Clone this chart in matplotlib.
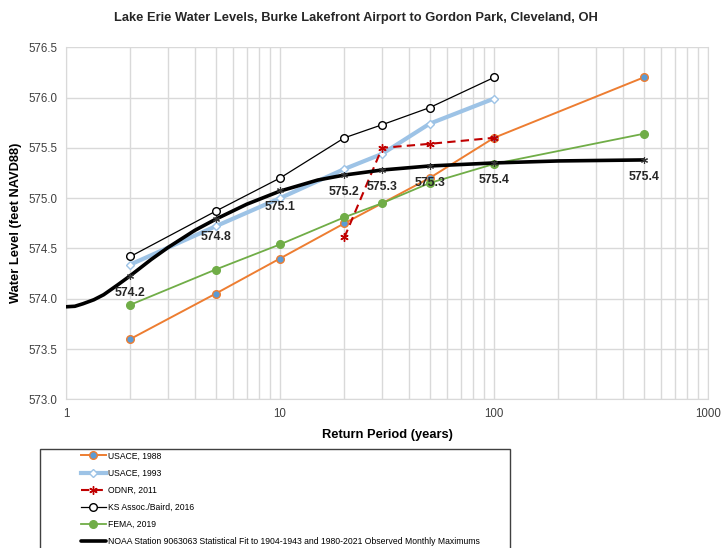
import numpy as np
import matplotlib.pyplot as plt
import matplotlib.patches as patches

plt.rcParams['font.family'] = ['Liberation Sans', 'DejaVu Sans']

# ---- Data ----
usace88_x = [2, 5, 10, 20, 50, 100, 500]
usace88_y = [573.60, 574.05, 574.40, 574.75, 575.20, 575.60, 576.20]

usace93_x = [2, 5, 10, 20, 30, 50, 100]
usace93_y = [574.34, 574.72, 575.00, 575.29, 575.44, 575.74, 575.99]

odnr_x = [20, 30, 50, 100]
odnr_y = [574.61, 575.50, 575.54, 575.60]

ks_x = [2, 5, 10, 20, 30, 50, 100]
ks_y = [574.42, 574.87, 575.20, 575.60, 575.73, 575.90, 576.20]

fema_x = [2, 5, 10, 20, 30, 50, 100, 500]
fema_y = [573.94, 574.29, 574.54, 574.81, 574.95, 575.15, 575.34, 575.64]

# NOAA statistical fit curve
noaa_x = [1, 1.1, 1.2, 1.35, 1.5, 1.75, 2, 2.5, 3, 4, 5, 7, 10, 15, 20, 30, 50, 100, 200, 500]
noaa_y = [573.92, 573.925, 573.95, 573.99, 574.04, 574.14, 574.23, 574.39, 574.51, 574.68,
          574.79, 574.94, 575.07, 575.18, 575.23, 575.28, 575.32, 575.35, 575.37, 575.38]

# NOAA points with data labels
noaa_pts_x = [2, 5, 10, 20, 30, 50, 100, 500]
noaa_pts_y = [574.23, 574.79, 575.08, 575.23, 575.28, 575.32, 575.35, 575.38]
noaa_labels = ['574.2', '574.8', '575.1', '575.2', '575.3', '575.3', '575.4', '575.4']

legend_labels = ['USACE, 1988', 'USACE, 1993', 'ODNR, 2011', 'KS Assoc./Baird, 2016', 'FEMA, 2019',
                 'NOAA Station 9063063 Statistical Fit to 1904-1943 and 1980-2021 Observed Monthly Maximums']

# ---- Colors ----
orange = '#ED7D31'
blue = '#5B9BD5'
light_blue = '#9DC3E6'
red = '#C00000'
green = '#70AD47'
grid_color = '#D9D9D9'
tick_color = '#404040'

# ---- Figure ----
fig = plt.figure(figsize=(7.22, 5.48), dpi=100)
ax = fig.add_axes([66 / 722, 1 - 399.3 / 548, (708 - 66) / 722, (399.3 - 47.3) / 548])

ax.set_xscale('log')
ax.set_xlim(1, 1000)
ax.set_ylim(573.0, 576.5)
ax.set_yticks(np.arange(573.0, 576.51, 0.5))
ax.yaxis.set_major_formatter(plt.FormatStrFormatter('%.1f'))
ax.set_xticks([1, 10, 100, 1000])
ax.set_xticklabels(['1', '10', '100', '1000'])

ax.grid(which='both', color=grid_color, linewidth=1.0)
ax.set_axisbelow(True)
ax.tick_params(which='both', length=0, labelsize=8.3, colors=tick_color, pad=6)
for s in ax.spines.values():
    s.set_color(grid_color)
ax.spines['top'].set_visible(False)

# The series
l1, = ax.plot(usace88_x, usace88_y, color=orange, lw=1.4, marker='o', ms=5.5,
              markerfacecolor=blue, markeredgecolor=orange, markeredgewidth=1.0, zorder=3)
l2, = ax.plot(usace93_x, usace93_y, color=light_blue, lw=3.0, marker='D', ms=4.5,
              markerfacecolor='white', markeredgecolor=light_blue, markeredgewidth=1.0, zorder=3)
l3, = ax.plot(odnr_x, odnr_y, color=red, lw=1.5, ls=(0, (4, 2.5)), marker=(6, 2, 0), ms=6,
              markeredgecolor=red, markeredgewidth=1.0, zorder=4)
l4, = ax.plot(ks_x, ks_y, color='black', lw=0.9, marker='o', ms=5.5,
              markerfacecolor='white', markeredgecolor='black', markeredgewidth=1.0, zorder=3)
l5, = ax.plot(fema_x, fema_y, color=green, lw=1.3, marker='o', ms=5.5,
              markerfacecolor=green, markeredgecolor=green, zorder=3)
l6, = ax.plot(noaa_x, noaa_y, color='black', lw=2.6, solid_capstyle='round', zorder=5)
ax.plot(noaa_pts_x, noaa_pts_y, ls='none', marker=(6, 2, 0), ms=5, color='#333333',
        markeredgewidth=0.8, zorder=6)

# Data labels for the NOAA fit
for xv, yv, txt in zip(noaa_pts_x, noaa_pts_y, noaa_labels):
    ax.annotate(txt, (xv, yv), xytext=(0, -12.5), textcoords='offset points',
                ha='center', va='center', fontsize=8.8, fontweight='bold', color='#262626', zorder=7)

# Titles
fig.text(356 / 722, 1 - 18 / 548, 'Lake Erie Water Levels, Burke Lakefront Airport to Gordon Park, Cleveland, OH',
         ha='center', va='center', fontsize=9.3, fontweight='bold', color='#262626')
ax.set_xlabel('Return Period (years)', fontsize=9.3, fontweight='bold', color='black', labelpad=7)
ax.set_ylabel('Water Level (feet NAVD88)', fontsize=9.3, fontweight='bold', color='black', labelpad=5)

# Legend box (cut off at the bottom like the reference)
box = patches.Rectangle((40 / 722, -0.05), 470 / 722, 0.05 + (548 - 448.5) / 548,
                        transform=fig.transFigure, fill=False, edgecolor='#404040', lw=1.0)
fig.patches.append(box)

fig.legend([l1, l2, l3, l4, l5, l6], legend_labels, loc='upper left',
           bbox_to_anchor=(81 / 722, 1 - 451.5 / 548), frameon=False, borderpad=0,
           borderaxespad=0, fontsize=6.2, labelspacing=0.95, handlelength=2.9,
           handletextpad=0.2, numpoints=1)

fig.savefig('out.png', dpi=100)
